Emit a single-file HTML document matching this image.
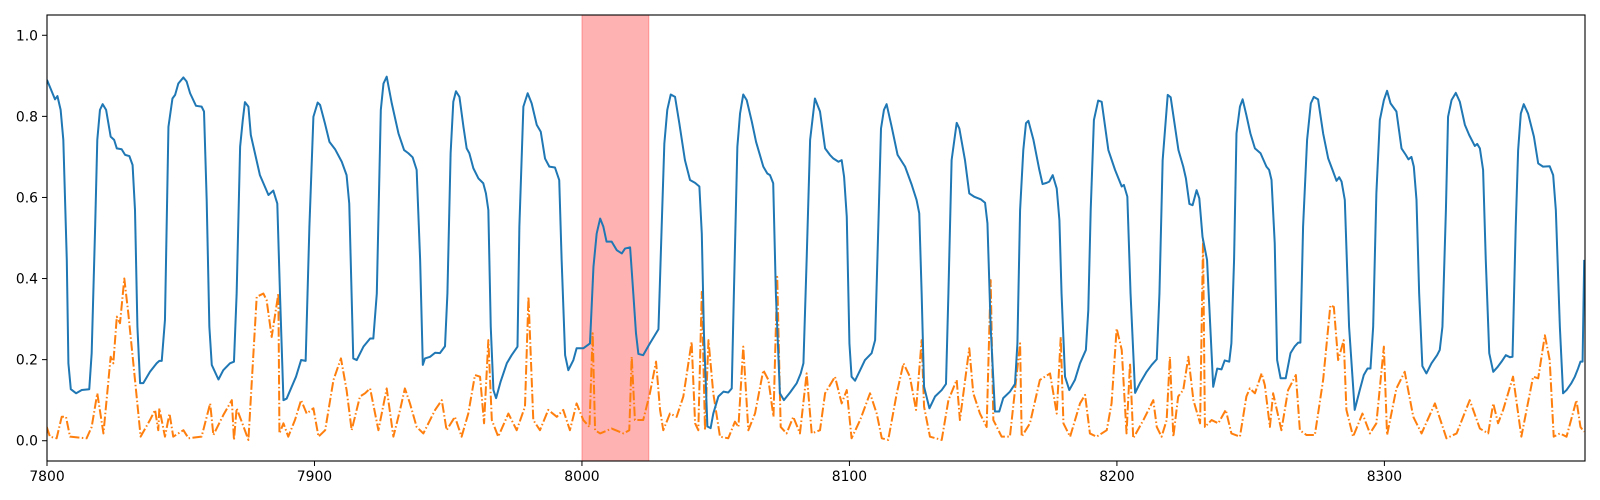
<!DOCTYPE html>
<html><head><meta charset="utf-8"><style>
html,body{margin:0;padding:0;background:#fff;}
svg{display:block;font-family:"DejaVu Sans","Liberation Sans",sans-serif;}
</style></head><body>
<svg id="chart" width="1600" height="500" viewBox="0 0 1600 500" xmlns="http://www.w3.org/2000/svg">
<rect x="0" y="0" width="1600" height="500" fill="#fff"/>
<g id="plot"></g>
</svg>
<script>
const xTicks = [7800, 7900, 8000, 8100, 8200, 8300];
const yTicks = [0.0, 0.2, 0.4, 0.6, 0.8, 1.0];
const spanRange = [8000, 8025];
const blueX = [7800,7803.0,7803.9,7805.1,7806.1,7807.4,7808.0,7808.9,7810.9,7813.0,7815.8,7816.7,7818.0,7818.8,7819.8,7820.8,7822.1,7823.8,7825.1,7826.1,7827.9,7829.2,7830.8,7832.0,7832.9,7833.8,7834.8,7836.0,7838.5,7841.0,7842.0,7842.9,7844.1,7845.4,7846.9,7847.9,7849.1,7851.0,7852.2,7853.5,7855.7,7857.8,7858.7,7859.7,7860.7,7861.6,7864.1,7865.9,7868.4,7869.9,7870.9,7872.2,7873.2,7874.0,7875.3,7876.2,7879.6,7882.8,7884.6,7886.1,7887.1,7888.4,7889.6,7893.1,7895.0,7896.7,7898.1,7899.6,7901.2,7902.1,7903.9,7905.6,7907.7,7910.2,7912.0,7913.0,7914.5,7915.8,7918.3,7920.8,7922.0,7923.3,7924.8,7925.8,7927.0,7928.9,7931.4,7933.5,7935.1,7936.7,7938.2,7939.5,7940.5,7941.3,7943.2,7945.1,7946.9,7948.8,7949.7,7950.9,7951.9,7952.9,7954.2,7955.7,7956.9,7957.9,7959.4,7961.3,7963.1,7964.1,7965.0,7965.9,7966.9,7967.9,7969.6,7971.9,7973.7,7975.9,7976.6,7978.1,7979.7,7981.2,7983.1,7984.6,7986.2,7987.8,7989.9,7991.5,7992.4,7993.7,7994.9,7996.8,7998.0,8000.5,8003.0,8004.3,8005.5,8006.8,8008.0,8009.2,8011.1,8013.0,8014.9,8016.1,8018.0,8019.2,8020.2,8021.1,8022.9,8025.4,8028.6,8029.8,8030.8,8031.9,8033.2,8034.8,8036.4,8038.5,8040.4,8042.3,8043.9,8044.8,8045.6,8046.9,8048.1,8049.1,8051.0,8052.9,8054.7,8056.0,8056.8,8058.1,8059.1,8060.3,8061.6,8063.5,8065.1,8067.8,8069.3,8070.3,8071.5,8072.5,8074.0,8075.5,8077.8,8080.3,8081.8,8082.8,8084.0,8085.3,8087.1,8089.0,8090.9,8092.7,8094.0,8095.9,8097.1,8098.0,8099.0,8100.0,8100.8,8102.1,8104.0,8105.8,8108.3,8109.6,8110.8,8111.8,8112.9,8113.9,8115.8,8118.0,8120.8,8123.3,8125.1,8126.1,8127.0,8127.9,8129.9,8132.0,8134.5,8136.1,8137.0,8138.2,8140.1,8141.1,8143.2,8144.8,8146.6,8149.2,8150.7,8151.6,8152.8,8154.4,8156.0,8157.5,8160.0,8161.9,8162.8,8163.8,8165.0,8166.0,8166.9,8168.8,8171.0,8172.2,8173.7,8174.7,8176.0,8177.5,8178.5,8179.3,8180.6,8182.2,8184.3,8186.2,8188.4,8189.3,8190.2,8191.4,8193.0,8194.3,8196.8,8199.3,8201.8,8202.6,8203.9,8205.1,8206.8,8208.6,8211.1,8213.0,8214.9,8215.9,8217.1,8219.0,8220.1,8223.0,8224.8,8225.8,8227.1,8228.3,8229.8,8230.8,8232.0,8233.7,8236.0,8237.5,8239.1,8240.3,8242.0,8242.8,8243.8,8244.7,8246.0,8247.0,8248.4,8249.9,8251.6,8253.7,8255.9,8256.9,8257.8,8259.0,8259.9,8261.2,8263.1,8264.9,8266.5,8267.8,8268.6,8269.6,8271.1,8272.5,8273.6,8275.2,8277.1,8279.0,8280.6,8282.1,8283.1,8284.0,8285.2,8286.8,8288.9,8290.8,8292.3,8293.7,8294.8,8295.8,8297.0,8298.3,8299.8,8301.0,8302.3,8304.5,8306.4,8308.0,8309.0,8310.1,8311.0,8312.0,8313.0,8314.2,8315.7,8317.6,8319.7,8320.7,8321.7,8323.0,8323.8,8325.1,8326.7,8328.2,8330.1,8331.7,8333.8,8334.7,8335.7,8336.9,8337.9,8339.2,8340.7,8342.2,8343.8,8345.4,8346.9,8347.9,8349.1,8350.0,8351.0,8352.1,8353.7,8355.9,8357.5,8359.3,8361.8,8363.1,8364.1,8365.6,8366.8,8368.1,8369.9,8371.2,8372.4,8373.3,8374.1,8374.7];
const blueY = [0.89,0.842,0.85,0.816,0.742,0.446,0.191,0.127,0.117,0.125,0.127,0.216,0.528,0.742,0.816,0.83,0.816,0.75,0.742,0.721,0.719,0.705,0.702,0.68,0.569,0.281,0.142,0.142,0.17,0.191,0.197,0.197,0.298,0.774,0.844,0.853,0.881,0.896,0.886,0.857,0.826,0.824,0.812,0.594,0.281,0.187,0.151,0.174,0.191,0.195,0.363,0.725,0.791,0.835,0.824,0.754,0.655,0.606,0.617,0.585,0.363,0.1,0.104,0.158,0.199,0.197,0.528,0.799,0.834,0.828,0.783,0.737,0.719,0.688,0.655,0.585,0.203,0.199,0.232,0.252,0.252,0.363,0.816,0.881,0.898,0.832,0.758,0.717,0.709,0.699,0.668,0.446,0.187,0.203,0.207,0.217,0.216,0.233,0.363,0.709,0.836,0.862,0.848,0.774,0.721,0.709,0.672,0.647,0.635,0.61,0.569,0.281,0.125,0.105,0.146,0.191,0.211,0.232,0.528,0.824,0.857,0.832,0.779,0.762,0.696,0.676,0.674,0.643,0.446,0.211,0.174,0.199,0.228,0.228,0.24,0.429,0.511,0.548,0.528,0.491,0.491,0.47,0.462,0.474,0.477,0.363,0.265,0.214,0.211,0.24,0.275,0.528,0.733,0.816,0.854,0.848,0.783,0.692,0.643,0.636,0.627,0.511,0.265,0.035,0.031,0.067,0.109,0.121,0.119,0.129,0.363,0.725,0.807,0.854,0.84,0.787,0.737,0.676,0.659,0.655,0.635,0.363,0.117,0.1,0.119,0.142,0.166,0.191,0.446,0.742,0.844,0.812,0.721,0.705,0.696,0.688,0.692,0.651,0.553,0.24,0.158,0.148,0.174,0.199,0.216,0.248,0.528,0.77,0.816,0.83,0.774,0.705,0.676,0.631,0.594,0.561,0.363,0.133,0.08,0.109,0.125,0.14,0.363,0.692,0.784,0.77,0.692,0.61,0.602,0.595,0.587,0.536,0.281,0.072,0.072,0.105,0.121,0.14,0.24,0.569,0.717,0.783,0.789,0.742,0.668,0.633,0.636,0.639,0.655,0.622,0.544,0.363,0.158,0.125,0.15,0.191,0.224,0.322,0.569,0.791,0.839,0.836,0.717,0.668,0.627,0.631,0.602,0.363,0.118,0.142,0.17,0.187,0.201,0.363,0.692,0.853,0.847,0.717,0.676,0.647,0.584,0.581,0.618,0.598,0.503,0.446,0.133,0.178,0.176,0.198,0.195,0.24,0.446,0.758,0.824,0.842,0.803,0.758,0.721,0.709,0.676,0.668,0.643,0.487,0.199,0.154,0.154,0.216,0.233,0.242,0.242,0.528,0.742,0.832,0.848,0.842,0.758,0.696,0.668,0.641,0.65,0.639,0.594,0.281,0.076,0.125,0.162,0.178,0.178,0.281,0.61,0.791,0.84,0.863,0.832,0.812,0.721,0.705,0.694,0.7,0.676,0.594,0.363,0.184,0.166,0.191,0.211,0.224,0.281,0.569,0.799,0.84,0.858,0.836,0.779,0.754,0.727,0.732,0.721,0.668,0.446,0.216,0.17,0.181,0.195,0.211,0.206,0.207,0.528,0.717,0.807,0.83,0.807,0.75,0.684,0.676,0.677,0.655,0.569,0.281,0.117,0.125,0.142,0.158,0.178,0.195,0.195,0.446,0.692];
const orangeX = [7799.9,7801.1,7803.6,7805.5,7807.1,7808.6,7814.8,7816.7,7818.8,7821.1,7823.8,7824.8,7826.1,7827.3,7828.9,7830.4,7832.9,7835.0,7838.5,7840.4,7841.6,7842.0,7844.1,7845.8,7847.2,7851.0,7852.9,7857.8,7861.0,7862.2,7865.9,7869.1,7869.9,7870.9,7872.8,7875.3,7878.4,7880.9,7882.1,7884.0,7886.5,7886.9,7888.4,7890.2,7892.7,7895.0,7897.1,7899.6,7901.5,7904.0,7907.1,7909.9,7912.0,7913.9,7917.0,7918.9,7920.8,7923.9,7927.0,7929.5,7932.0,7933.8,7935.7,7938.2,7940.7,7943.2,7945.1,7947.6,7949.4,7952.5,7955.0,7957.5,7960.0,7961.9,7963.4,7965.0,7966.3,7968.7,7972.5,7975.6,7978.7,7980.0,7981.8,7984.3,7987.4,7990.6,7993.0,7995.5,7998.0,8000.5,8002.8,8004.0,8004.9,8006.8,8011.1,8015.5,8017.7,8018.6,8019.8,8022.9,8025.4,8027.7,8029.2,8030.4,8032.9,8035.4,8037.9,8041.0,8042.3,8043.5,8044.8,8046.0,8047.3,8049.1,8051.6,8054.7,8057.2,8058.5,8060.3,8062.2,8064.7,8067.8,8069.7,8071.6,8073.0,8074.3,8076.5,8079.0,8081.5,8084.0,8085.9,8089.0,8090.9,8094.6,8097.1,8099.0,8100.8,8104.0,8107.7,8110.2,8112.1,8114.5,8117.7,8120.2,8122.6,8124.9,8127.0,8127.9,8130.1,8134.5,8137.0,8140.1,8141.3,8144.8,8146.3,8148.8,8151.3,8152.8,8153.8,8156.9,8160.0,8163.8,8164.4,8167.5,8171.2,8175.0,8177.5,8179.0,8180.0,8182.5,8186.2,8188.1,8189.9,8192.4,8196.2,8198.0,8199.9,8201.8,8203.6,8204.9,8206.1,8209.9,8213.6,8214.9,8216.7,8218.6,8219.8,8221.1,8222.9,8224.8,8226.7,8228.6,8231.1,8232.2,8232.9,8235.4,8237.9,8240.7,8242.8,8246.0,8248.4,8249.7,8251.6,8254.1,8255.3,8257.2,8258.4,8261.5,8264.0,8266.9,8268.4,8270.9,8274.0,8277.1,8279.8,8281.1,8282.7,8284.8,8285.8,8288.3,8291.8,8294.6,8297.0,8299.8,8301.0,8304.5,8307.6,8310.8,8313.9,8318.9,8323.2,8327.0,8331.9,8335.7,8338.8,8340.7,8342.5,8344.4,8348.1,8351.2,8355.6,8357.5,8360.0,8361.8,8363.3,8365.6,8368.1,8371.8,8373.3,8374.6];
const orangeY = [0.034,0.01,0.006,0.059,0.059,0.01,0.006,0.034,0.117,0.018,0.207,0.191,0.306,0.29,0.4,0.314,0.15,0.01,0.051,0.076,0.026,0.08,0.01,0.067,0.01,0.026,0.006,0.01,0.092,0.014,0.063,0.1,0.002,0.08,0.047,0.002,0.355,0.363,0.347,0.256,0.363,0.018,0.043,0.01,0.051,0.1,0.067,0.08,0.01,0.026,0.15,0.203,0.125,0.026,0.109,0.117,0.129,0.026,0.129,0.01,0.076,0.129,0.092,0.034,0.018,0.051,0.076,0.1,0.026,0.059,0.01,0.067,0.162,0.158,0.043,0.248,0.051,0.01,0.067,0.026,0.084,0.355,0.051,0.026,0.076,0.059,0.076,0.026,0.092,0.051,0.034,0.265,0.026,0.018,0.03,0.018,0.026,0.207,0.051,0.051,0.117,0.195,0.076,0.026,0.067,0.059,0.109,0.244,0.043,0.026,0.367,0.026,0.248,0.117,0.01,0.006,0.047,0.034,0.232,0.026,0.067,0.174,0.15,0.059,0.404,0.034,0.018,0.059,0.018,0.166,0.018,0.026,0.117,0.158,0.092,0.125,0.006,0.051,0.117,0.067,0.006,0.002,0.117,0.191,0.158,0.076,0.248,0.084,0.01,0.002,0.1,0.15,0.051,0.228,0.117,0.067,0.034,0.396,0.051,0.01,0.01,0.24,0.01,0.043,0.15,0.166,0.067,0.256,0.043,0.01,0.092,0.113,0.018,0.01,0.026,0.092,0.277,0.224,0.018,0.191,0.006,0.051,0.1,0.034,0.01,0.051,0.207,0.01,0.109,0.125,0.207,0.1,0.043,0.495,0.034,0.051,0.043,0.076,0.018,0.01,0.109,0.129,0.117,0.166,0.137,0.034,0.117,0.026,0.125,0.162,0.026,0.014,0.014,0.15,0.334,0.33,0.199,0.248,0.076,0.01,0.067,0.018,0.043,0.232,0.014,0.129,0.17,0.059,0.018,0.092,0.006,0.018,0.1,0.03,0.018,0.092,0.043,0.076,0.158,0.01,0.158,0.154,0.26,0.199,0.01,0.018,0.01,0.1,0.034,0.022];

const NS = 'http://www.w3.org/2000/svg';
const L = 47, R = 1585, T = 15, B = 461;
const xMin = 7800, xMax = 8375, yMin = -0.05, yMax = 1.05;
function sx(v){ return L + (v - xMin) / (xMax - xMin) * (R - L); }
function sy(v){ return B - (v - yMin) / (yMax - yMin) * (B - T); }
const svg = document.getElementById('chart');
const plot = document.getElementById('plot');
function mk(tag, attrs, parent){
  const e = document.createElementNS(NS, tag);
  for (const k in attrs) e.setAttribute(k, attrs[k]);
  (parent || svg).appendChild(e);
  return e;
}
const span = mk('rect', {x: sx(spanRange[0]), y: T, width: sx(spanRange[1]) - sx(spanRange[0]), height: B - T, fill: '#ff0000', 'fill-opacity': 0.3, stroke: '#ff0000', 'stroke-opacity': 0.3}, plot);



const clip = mk('clipPath', {id: 'clipArea'});
mk('rect', {x: L, y: T, width: R - L, height: B - T}, clip);

function linePath(xs, ys){
  let d = '';
  for (let i = 0; i < xs.length; i++) d += (i ? 'L' : 'M') + sx(xs[i]).toFixed(2) + ',' + sy(ys[i]).toFixed(2);
  return d;
}
const orange = mk('path', {d: linePath(orangeX, orangeY), fill: 'none', stroke: '#ff7f0e', 'stroke-width': 2, 'stroke-dasharray': '9.6,2.4,1.5,2.4', 'stroke-linejoin': 'round', 'clip-path': 'url(#clipArea)'}, plot);


const blue = mk('path', {d: linePath(blueX, blueY), fill: 'none', stroke: '#1f77b4', 'stroke-width': 2, 'stroke-linejoin': 'round', 'clip-path': 'url(#clipArea)'}, plot);



const frame = mk('rect', {x: L, y: T, width: R - L, height: B - T, fill: 'none', stroke: '#000', 'stroke-width': 1.1});



for (const t of xTicks){
  const x = sx(t);
  const tk = mk('line', {x1: x, y1: B, x2: x, y2: B + 5, stroke: '#000', 'stroke-width': 1});
  
  
  const lb = mk('text', {x: x, y: B + 20, 'text-anchor': 'middle', 'font-size': 13.9, fill: '#000'});
  lb.textContent = String(t);
  
  
}
for (const t of yTicks){
  const y = sy(t);
  const tk = mk('line', {x1: L - 5, y1: y, x2: L, y2: y, stroke: '#000', 'stroke-width': 1});
  
  
  const lb = mk('text', {x: L - 9, y: y + 5, 'text-anchor': 'end', 'font-size': 13.9, fill: '#000'});
  lb.textContent = t.toFixed(1);
  
  
}
</script>
</body></html>
